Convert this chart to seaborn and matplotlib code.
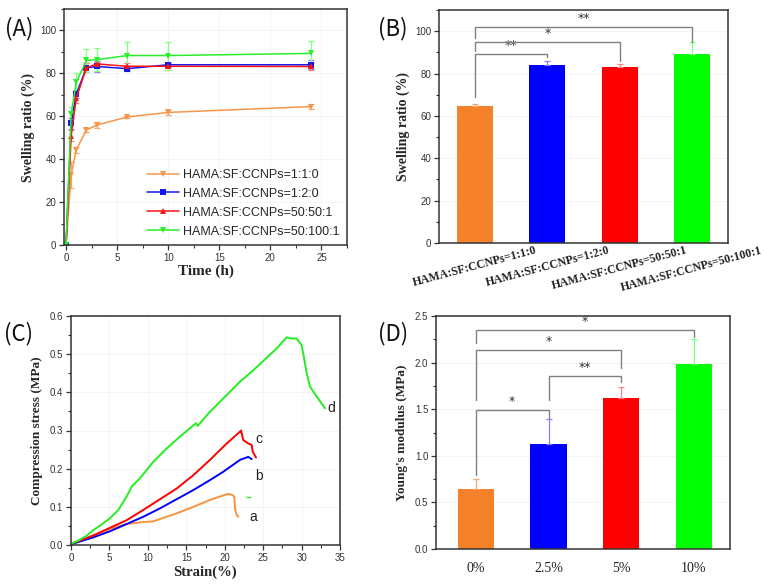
import numpy as np
import pandas as pd
import matplotlib
matplotlib.use("Agg")
import matplotlib.pyplot as plt
from matplotlib.ticker import AutoMinorLocator, MultipleLocator
import seaborn as sns

# ---- data ----
# (A) swelling kinetics
time_h = [0, 0.5, 1, 2, 3, 6, 10, 24]
sw_111 = [0, 32.7, 44.4, 53.6, 55.9, 59.7, 61.8, 64.5]
sw_111_err = [0, 6.0, 1.5, 1.0, 1.2, 0.6, 1.2, 1.0]
sw_120 = [0, 56.7, 70.4, 82.6, 83.2, 82.2, 84.0, 84.0]
sw_120_err = [0, 2.5, 2.0, 2.0, 2.5, 1.0, 1.0, 2.0]
sw_50501 = [0, 50.9, 68.5, 82.6, 84.4, 83.3, 83.3, 83.2]
sw_50501_err = [0, 2.5, 2.5, 2.0, 1.0, 1.5, 1.5, 1.5]
sw_501001 = [0, 61.0, 75.9, 86.0, 86.4, 88.3, 88.3, 89.3]
sw_501001_err = [0, 3.5, 4.4, 5.5, 5.5, 6.5, 6.5, 5.8]
groups = ["HAMA:SF:CCNPs=1:1:0", "HAMA:SF:CCNPs=1:2:0",
          "HAMA:SF:CCNPs=50:50:1", "HAMA:SF:CCNPs=50:100:1"]

# (B) equilibrium swelling
eq_swelling = [64.5, 83.8, 83.3, 89.0]
eq_swelling_err = [0.9, 2.2, 1.3, 5.7]
b_brackets = [(0, 1, 89.2, 69.0, 87.7, "**"),
              (0, 2, 95.0, 90.7, 85.8, "*"),
              (0, 3, 102.2, 97.0, 94.7, "**")]

# (C) compression curves
strain_a = [0, 2.9, 5.07, 7.24, 8.5, 9.41, 10.7, 11.58, 13.75, 15.92, 18.08, 19.82,
            20.47, 21.0, 21.25, 21.34, 21.55, 21.77]
stress_a = [0.002, 0.025, 0.042, 0.055, 0.058, 0.060, 0.062, 0.068, 0.083, 0.100, 0.118,
            0.130, 0.134, 0.131, 0.127, 0.096, 0.079, 0.074]
strain_b = [0, 2.9, 5.07, 7.24, 9.41, 11.58, 13.75, 15.92, 18.08, 19.82, 21.99, 23.07, 23.5]
stress_b = [0.002, 0.020, 0.036, 0.055, 0.074, 0.096, 0.120, 0.144, 0.170, 0.192, 0.223,
            0.231, 0.225]
strain_c = [0, 2.9, 5.07, 7.24, 9.41, 11.58, 13.75, 15.92, 18.08, 20.26, 21.99, 22.12,
            22.42, 23.07, 23.5, 23.64, 24.07]
stress_c = [0.003, 0.025, 0.045, 0.065, 0.092, 0.120, 0.148, 0.183, 0.223, 0.266, 0.297,
            0.300, 0.275, 0.266, 0.262, 0.245, 0.229]
strain_d = [0, 1, 2, 2.9, 4, 5.07, 6.16, 7.24, 7.89, 8.98, 10.71, 12.45, 14.18, 16.13,
            16.3, 16.48, 18.08, 20.26, 21.99, 23.72, 26.76, 28.06, 28.71, 29.36, 30.0,
            30.3, 30.66, 31.1, 31.97, 33.05]
stress_d = [0.003, 0.012, 0.024, 0.039, 0.054, 0.070, 0.092, 0.127, 0.153, 0.175, 0.218,
            0.253, 0.284, 0.317, 0.319, 0.312, 0.349, 0.393, 0.428, 0.458, 0.515, 0.544,
            0.541, 0.541, 0.524, 0.493, 0.450, 0.415, 0.389, 0.358]
strain_dash = [22.9, 23.4]
stress_dash = [0.125, 0.124]
curve_labels = ["a", "b", "c", "d"]
label_pos = [(23.7, 0.074), (24.46, 0.181), (24.5, 0.277), (33.9, 0.36)]

# (D) Young's modulus
ccnp_content = ["0%", "2.5%", "5%", "10%"]
modulus = [0.64, 1.13, 1.62, 1.98]
modulus_err = [0.11, 0.27, 0.12, 0.27]
d_brackets = [(0, 1, 1.49, 0.79, 1.41, "*"),
              (1, 2, 1.86, 1.60, 1.79, "**"),
              (0, 2, 2.14, 1.60, 1.94, "*"),
              (0, 3, 2.35, 2.21, 2.28, "*")]

# ---- style ----
sns.set_theme(style="ticks")
plt.rcParams["font.family"] = ["Liberation Sans", "DejaVu Sans"]

bar_colors = ["#F5812A", "#0000FF", "#FF0000", "#00FF00"]
err_colors = ["#F9A86A", "#8080FF", "#FF8080", "#80FF80"]
line_colors = ["#F7964A", "#1515F0", "#F51515", "#2AEE2A"]
markers = ["v", "s", "^", "v"]
spine_col = "#333333"
serif = ["Liberation Serif", "DejaVu Serif"]

fig = plt.figure(figsize=(7.64, 5.84), dpi=100)
W, H = 764, 584


def px_axes(left, top, right, bottom):
    return fig.add_axes([left / W, 1 - bottom / H, (right - left) / W, (bottom - top) / H])


def style_axes(ax):
    for s in ax.spines.values():
        s.set_visible(True)
        s.set_color(spine_col)
        s.set_linewidth(1.1)
    ax.tick_params(which="major", direction="out", length=3.5, width=0.9, color=spine_col,
                   labelsize=7, labelcolor="#333333", top=False, right=False, pad=2)
    ax.tick_params(which="minor", direction="out", length=2, width=0.8, color=spine_col,
                   top=False, right=False)
    ax.grid(True, color="#f3f3f3", linewidth=0.6)
    ax.set_axisbelow(True)


def up_errors(ax, vals, errs):
    for i, (v, e, c) in enumerate(zip(vals, errs, err_colors)):
        ax.errorbar([i], [v], yerr=[[0], [e]], fmt="none", ecolor=c, elinewidth=0.9,
                    capsize=2.5, capthick=0.9)


def brackets(ax, items, star_off):
    for i, j, ytop, yl, yr, lab in items:
        ax.plot([i, i, j, j], [yl, ytop, ytop, yr], color="#808080", lw=1.0, zorder=4)
        ax.text((i + j) / 2, ytop + star_off, lab, ha="center", va="center",
                fontsize=9, color="#333333", family=["DejaVu Sans"])


def panel_label(x, y, txt):
    fig.text(x / W, 1 - y / H, txt, fontsize=16, ha="left", va="center",
             family=["Noto Sans CJK SC", "DejaVu Sans"], color="#111111")


# ---- (A) ----
axA = px_axes(64, 9, 347, 245)
style_axes(axA)
series = [sw_111, sw_120, sw_50501, sw_501001]
errs = [sw_111_err, sw_120_err, sw_50501_err, sw_501001_err]
dfA = pd.concat([pd.DataFrame({"Time": time_h, "Swelling": s, "Group": g})
                 for s, g in zip(series, groups)])
sns.lineplot(data=dfA, x="Time", y="Swelling", hue="Group", style="Group",
             palette=line_colors, markers=markers, dashes=False, markersize=4,
             markeredgewidth=0, linewidth=1.1, ax=axA, errorbar=None)
for s, e, c in zip(series, errs, err_colors):
    axA.errorbar(time_h, s, yerr=e, fmt="none", ecolor=c, elinewidth=0.9, capsize=2.5,
                 capthick=0.9, zorder=1)
axA.set_xlim(-0.2, 27.5)
axA.set_ylim(0, 110)
axA.xaxis.set_major_locator(MultipleLocator(5))
axA.xaxis.set_minor_locator(AutoMinorLocator(2))
axA.yaxis.set_major_locator(MultipleLocator(20))
axA.yaxis.set_minor_locator(AutoMinorLocator(2))
axA.set_xlabel("Time (h)", family=serif, fontweight="bold", fontsize=11, labelpad=1)
axA.set_ylabel("Swelling ratio (%)", family=serif, fontweight="bold", fontsize=10,
               labelpad=4)
leg = axA.legend(loc="lower right", bbox_to_anchor=(1.0, 0.0), frameon=False, fontsize=9,
                 handlelength=2.6, labelspacing=0.55, handletextpad=0.3, borderaxespad=0.2)
panel_label(5, 29, "(A)")

# ---- (B) ----
axB = px_axes(439, 10, 728, 243)
style_axes(axB)
dfB = pd.DataFrame({"Group": groups, "Swelling": eq_swelling})
sns.barplot(data=dfB, x="Group", y="Swelling", hue="Group", palette=bar_colors,
            width=0.5, legend=False, ax=axB, saturation=1, edgecolor="none")
up_errors(axB, eq_swelling, eq_swelling_err)
brackets(axB, b_brackets, 4.0)
axB.set_xlim(-0.5, 3.5)
axB.set_ylim(0, 110)
axB.yaxis.set_major_locator(MultipleLocator(20))
axB.yaxis.set_minor_locator(AutoMinorLocator(2))
axB.tick_params(axis="x", which="major", length=0, pad=1)
axB.set_xlabel("")
axB.set_ylabel("Swelling ratio (%)", family=serif, fontweight="bold", fontsize=10,
               labelpad=4)
for t in axB.get_xticklabels():
    t.set_family(serif)
    t.set_fontweight("bold")
    t.set_fontsize(8.5)
    t.set_rotation(15)
    t.set_ha("center")
    t.set_color("#222222")
panel_label(378, 29, "(B)")

# ---- (C) ----
axC = px_axes(71, 316, 340, 545)
style_axes(axC)
curves = [(strain_a, stress_a), (strain_b, stress_b), (strain_c, stress_c), (strain_d, stress_d)]
curve_cols = ["#F7923E", "#0000FF", "#FF0000", "#22EE22"]
for (sx, sy), c in zip(curves, curve_cols):
    sns.lineplot(x=sx, y=sy, sort=False, color=c, linewidth=1.4, ax=axC, estimator=None)
sns.lineplot(x=strain_dash, y=stress_dash, sort=False, color="#22EE22", linewidth=1.0,
             ax=axC, estimator=None)
for lab, (lx, ly) in zip(curve_labels, label_pos):
    axC.text(lx, ly, lab, ha="center", va="center", fontsize=10, color="#222222")
axC.set_xlim(0, 35)
axC.set_ylim(0, 0.6)
axC.xaxis.set_major_locator(MultipleLocator(5))
axC.xaxis.set_minor_locator(AutoMinorLocator(2))
axC.yaxis.set_major_locator(MultipleLocator(0.1))
axC.yaxis.set_minor_locator(AutoMinorLocator(2))
axC.set_xlabel("Strain(%)", family=serif, fontweight="bold", fontsize=10.5, labelpad=2)
axC.set_ylabel("Compression stress (MPa)", family=serif, fontweight="bold", fontsize=9.5,
               labelpad=5)
panel_label(4, 334, "(C)")

# ---- (D) ----
axD = px_axes(436, 316, 730, 549)
style_axes(axD)
dfD = pd.DataFrame({"Content": ccnp_content, "Modulus": modulus})
sns.barplot(data=dfD, x="Content", y="Modulus", hue="Content", palette=bar_colors,
            width=0.5, legend=False, ax=axD, saturation=1, edgecolor="none")
up_errors(axD, modulus, modulus_err)
brackets(axD, d_brackets, 0.09)
axD.set_xlim(-0.55, 3.5)
axD.set_ylim(0, 2.5)
axD.yaxis.set_major_locator(MultipleLocator(0.5))
axD.yaxis.set_minor_locator(AutoMinorLocator(2))
axD.tick_params(axis="x", which="major", length=0, pad=9)
axD.set_xlabel("")
axD.set_ylabel("Young's modulus (MPa)", family=serif, fontweight="bold", fontsize=9.5,
               labelpad=5)
for t in axD.get_xticklabels():
    t.set_family(serif)
    t.set_fontsize(10)
    t.set_color("#222222")
panel_label(378, 334, "(D)")

fig.savefig("out.png", dpi=100, facecolor="white")
